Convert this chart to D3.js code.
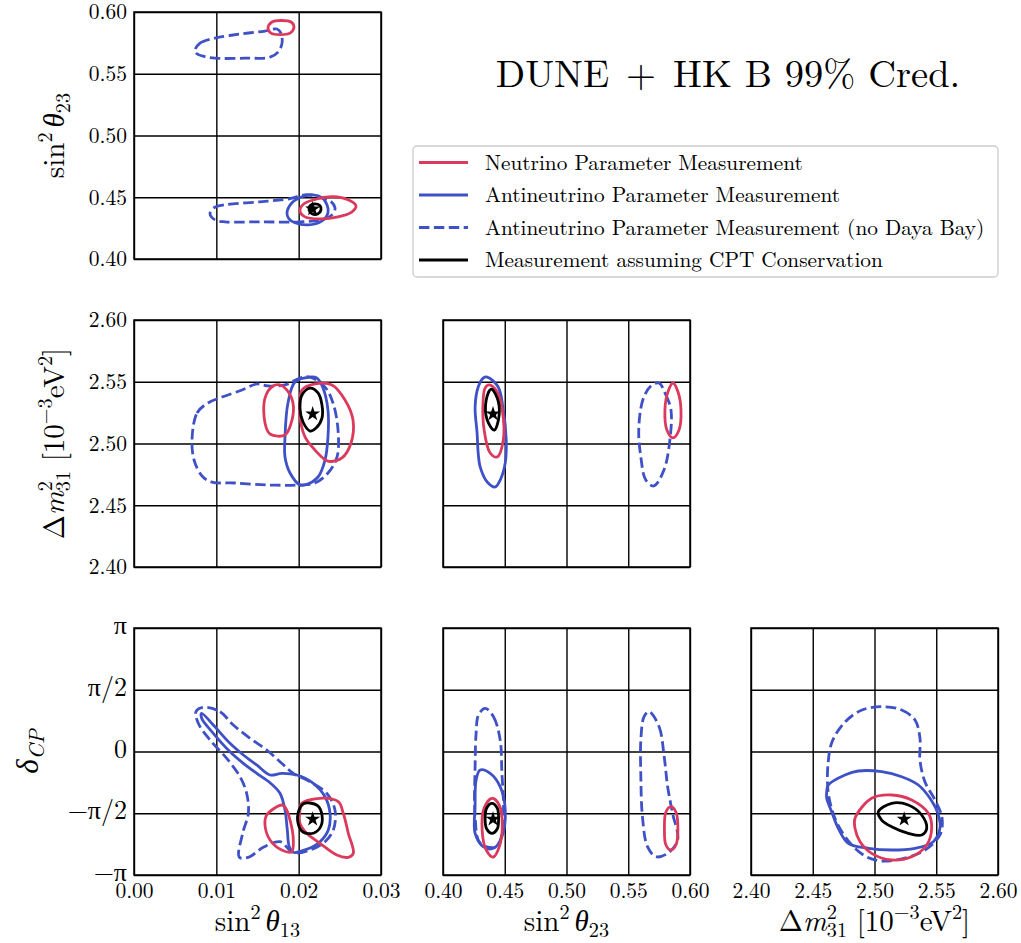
<!DOCTYPE html>
<html>
<head>
<meta charset="utf-8">
<script src="https://cdn.jsdelivr.net/npm/d3@7"></script>
</head>
<body style="margin:0;background:#fff">
<svg id="chart" width="1021" height="943"></svg>
<script>
const PI = Math.PI;

// axis ranges + ticks
const t13Domain = [0, 0.03];
const t23Domain = [0.40, 0.60];
const dmDomain = [2.40, 2.60];
const dcpDomain = [-PI, PI];

const t13Ticks = [0, 0.01, 0.02, 0.03];
const t23Ticks = [0.40, 0.45, 0.50, 0.55, 0.60];
const dmTicks = [2.40, 2.45, 2.50, 2.55, 2.60];
const dcpTicks = [-PI, -PI / 2, 0, PI / 2, PI];
const dcpLabels = ["−π", "−π/2", "0", "π/2", "π"];

// best fit (star): sin2 t13, sin2 t23, dm31, dcp
const bestT13 = 0.0217;
const bestT23 = 0.4405;
const bestDm = 2.524;
const bestDcp = -1.72;

// ---- sin2 t13 vs sin2 t23
const p1_nu_hi = [[0.01628,0.5870],[0.01676,0.5919],[0.01785,0.5931],[0.01907,0.5919],[0.01943,0.5878],[0.01895,0.5829],[0.01773,0.5817],[0.01664,0.5829]];
const p1_nu_lo = [[0.02016,0.4390],[0.02065,0.4447],[0.02235,0.4488],[0.02417,0.4504],[0.02599,0.4480],[0.02696,0.4431],[0.02648,0.4382],[0.02478,0.4341],[0.02259,0.4325],[0.02077,0.4341]];
const p1_anu = [[0.01858,0.4374],[0.01919,0.4455],[0.02040,0.4504],[0.02174,0.4520],[0.02283,0.4496],[0.02344,0.4439],[0.02356,0.4374],[0.02283,0.4309],[0.02113,0.4276],[0.01955,0.4293],[0.01883,0.4325]];
const p1_nodb_hi = [[0.00741,0.5691],[0.00802,0.5748],[0.00984,0.5789],[0.01287,0.5821],[0.01591,0.5846],[0.01737,0.5862],[0.01785,0.5829],[0.01798,0.5748],[0.01749,0.5675],[0.01652,0.5634],[0.01348,0.5626],[0.00984,0.5626],[0.00838,0.5642],[0.00753,0.5667]];
const p1_nodb_lo = [[0.00923,0.4366],[0.00972,0.4415],[0.01105,0.4439],[0.01530,0.4463],[0.01895,0.4488],[0.02077,0.4520],[0.02235,0.4504],[0.02381,0.4472],[0.02441,0.4415],[0.02417,0.4366],[0.02320,0.4325],[0.02016,0.4301],[0.01530,0.4301],[0.01105,0.4301],[0.00984,0.4317]];
const p1_cpt = [[0.02198,0.4447],[0.02259,0.4431],[0.02271,0.4398],[0.02235,0.4366],[0.02162,0.4366],[0.02126,0.4398],[0.02138,0.4431]];

// ---- sin2 t13 vs dm31
const p2_nu_a = [[0.01688,2.5466],[0.01591,2.5368],[0.01591,2.5166],[0.01652,2.5077],[0.01834,2.5069],[0.01919,2.5190],[0.01931,2.5328],[0.01858,2.5433],[0.01773,2.5474]];
const p2_nu_b = [[0.02040,2.5433],[0.02198,2.5482],[0.02405,2.5474],[0.02563,2.5352],[0.02660,2.5190],[0.02636,2.5004],[0.02526,2.4883],[0.02356,2.4858],[0.02198,2.4947],[0.02077,2.5053],[0.02016,2.5215],[0.02016,2.5352]];
const p2_anu = [[0.02138,2.5538],[0.01956,2.5498],[0.01870,2.5328],[0.01834,2.5053],[0.01834,2.4891],[0.01895,2.4761],[0.02016,2.4664],[0.02077,2.4664],[0.02235,2.4729],[0.02320,2.4866],[0.02356,2.5053],[0.02356,2.5271],[0.02296,2.5449],[0.02223,2.5530]];
const p2_nodb = [[0.00704,2.5004],[0.00765,2.5247],[0.00899,2.5328],[0.01069,2.5376],[0.01312,2.5433],[0.01494,2.5482],[0.01628,2.5466],[0.01834,2.5474],[0.02016,2.5530],[0.02138,2.5538],[0.02320,2.5457],[0.02417,2.5328],[0.02478,2.5109],[0.02466,2.4891],[0.02356,2.4761],[0.02198,2.4680],[0.01992,2.4664],[0.01628,2.4664],[0.01227,2.4680],[0.00947,2.4688],[0.00838,2.4729],[0.00741,2.4842]];
const p2_cpt = [[0.02138,2.5449],[0.02235,2.5409],[0.02283,2.5312],[0.02283,2.5206],[0.02211,2.5125],[0.02138,2.5101],[0.02053,2.5174],[0.02016,2.5287],[0.02040,2.5393]];

// ---- sin2 t23 vs dm31
const p3_nu_a = [[0.4374,2.5474],[0.4439,2.5417],[0.4480,2.5271],[0.4488,2.5028],[0.4439,2.4891],[0.4382,2.4923],[0.4333,2.5109],[0.4325,2.5352],[0.4341,2.5449]];
const p3_nu_b = [[0.5862,2.5490],[0.5903,2.5417],[0.5927,2.5271],[0.5911,2.5109],[0.5862,2.5045],[0.5813,2.5109],[0.5797,2.5271],[0.5821,2.5417]];
const p3_anu = [[0.4358,2.5538],[0.4447,2.5457],[0.4488,2.5271],[0.4512,2.5028],[0.4504,2.4842],[0.4463,2.4704],[0.4423,2.4648],[0.4358,2.4688],[0.4301,2.4810],[0.4285,2.4923],[0.4276,2.5085],[0.4260,2.5296],[0.4285,2.5457],[0.4325,2.5530]];
const p3_nodb = [[0.5748,2.5490],[0.5805,2.5393],[0.5846,2.5271],[0.5837,2.5028],[0.5789,2.4785],[0.5707,2.4656],[0.5642,2.4704],[0.5602,2.4891],[0.5585,2.5109],[0.5618,2.5352],[0.5683,2.5466]];
const p3_cpt = [[0.4390,2.5441],[0.4439,2.5368],[0.4455,2.5231],[0.4415,2.5109],[0.4358,2.5190],[0.4350,2.5352]];

// ---- sin2 t13 vs dcp
const p4_nu_a = [[0.01794,-1.361],[0.01612,-1.615],[0.01591,-1.870],[0.01652,-2.251],[0.01794,-2.506],[0.01915,-2.549],[0.01935,-2.251],[0.01895,-1.743],[0.01834,-1.412]];
const p4_nu_b = [[0.02037,-1.318],[0.02259,-1.190],[0.02481,-1.277],[0.02542,-1.572],[0.02603,-2.081],[0.02664,-2.590],[0.02603,-2.691],[0.02462,-2.633],[0.02259,-2.335],[0.02098,-2.081],[0.02016,-1.827],[0.02016,-1.488]];
const p4_anu = [[0.00822,0.972],[0.00963,0.674],[0.01166,0.208],[0.01328,-0.089],[0.01490,-0.343],[0.01652,-0.598],[0.01794,-0.555],[0.01976,-0.598],[0.02178,-0.809],[0.02320,-1.150],[0.02381,-1.572],[0.02360,-1.997],[0.02259,-2.294],[0.02098,-2.488],[0.01935,-2.564],[0.01886,-2.422],[0.01862,-1.997],[0.01834,-1.488],[0.01773,-1.063],[0.01652,-0.794],[0.01490,-0.555],[0.01328,-0.300],[0.01166,-0.005],[0.00963,0.463],[0.00822,0.845]];
const p4_nodb = [[0.00842,1.124],[0.01045,1.013],[0.01206,0.674],[0.01409,0.336],[0.01612,0.038],[0.01794,-0.300],[0.01935,-0.555],[0.02138,-0.768],[0.02340,-1.063],[0.02441,-1.488],[0.02421,-1.997],[0.02320,-2.294],[0.02138,-2.506],[0.01935,-2.574],[0.01773,-2.294],[0.01571,-2.437],[0.01389,-2.691],[0.01279,-2.691],[0.01320,-2.081],[0.01389,-1.572],[0.01368,-1.063],[0.01287,-0.641],[0.01126,-0.173],[0.00923,0.293],[0.00781,0.717],[0.00753,1.013]];
const p4_cpt = [[0.02138,-1.310],[0.02235,-1.386],[0.02283,-1.615],[0.02271,-1.895],[0.02186,-2.073],[0.02053,-2.048],[0.01992,-1.819],[0.02004,-1.488],[0.02053,-1.335]];

// ---- sin2 t23 vs dcp
const p5_nu_a = [[0.4396,-1.190],[0.4455,-1.361],[0.4480,-1.870],[0.4455,-2.429],[0.4407,-2.684],[0.4350,-2.506],[0.4317,-1.997],[0.4333,-1.437]];
const p5_nu_b = [[0.5846,-1.404],[0.5886,-1.539],[0.5902,-1.946],[0.5886,-2.378],[0.5846,-2.506],[0.5805,-2.378],[0.5793,-1.946],[0.5805,-1.539]];
const p5_anu = [[0.4301,-0.471],[0.4382,-0.555],[0.4463,-0.895],[0.4504,-1.488],[0.4477,-2.167],[0.4409,-2.462],[0.4328,-2.422],[0.4260,-2.081],[0.4260,-1.404],[0.4268,-0.725]];
const p5_nodb_a = [[0.4341,1.099],[0.4409,0.885],[0.4463,0.293],[0.4477,-0.555],[0.4490,-1.404],[0.4477,-2.081],[0.4437,-2.422],[0.4301,-2.335],[0.4260,-1.659],[0.4260,-0.387],[0.4268,0.463],[0.4287,0.928]];
const p5_nodb_b = [[0.5669,1.013],[0.5750,0.631],[0.5791,-0.132],[0.5819,-0.895],[0.5859,-1.572],[0.5900,-2.251],[0.5819,-2.590],[0.5724,-2.676],[0.5656,-2.422],[0.5615,-1.659],[0.5602,-0.641],[0.5602,0.293],[0.5628,0.885]];
const p5_cpt = [[0.4396,-1.318],[0.4439,-1.437],[0.4450,-1.692],[0.4439,-1.972],[0.4396,-2.081],[0.4354,-1.972],[0.4341,-1.692],[0.4354,-1.437]];

// ---- dm31 vs dcp
const p6_nu = [[2.4842,-1.699],[2.4977,-1.190],[2.5139,-1.107],[2.5301,-1.234],[2.5436,-1.572],[2.5463,-1.954],[2.5423,-2.378],[2.5301,-2.676],[2.5139,-2.760],[2.4977,-2.590],[2.4883,-2.294],[2.4842,-1.954]];
const p6_anu = [[2.4626,-0.852],[2.4761,-0.598],[2.4869,-0.496],[2.5058,-0.514],[2.5220,-0.641],[2.5355,-0.852],[2.5449,-1.190],[2.5517,-1.615],[2.5530,-1.954],[2.5476,-2.294],[2.5328,-2.462],[2.5139,-2.506],[2.4950,-2.462],[2.4788,-2.335],[2.4707,-1.954],[2.4653,-1.531],[2.4613,-1.190],[2.4613,-1.022]];
const p6_nodb = [[2.5058,1.140],[2.5220,1.056],[2.5328,0.801],[2.5368,0.343],[2.5368,-0.216],[2.5409,-0.776],[2.5490,-1.234],[2.5547,-1.692],[2.5530,-2.124],[2.5409,-2.506],[2.5247,-2.709],[2.5061,-2.785],[2.4923,-2.658],[2.4802,-2.328],[2.4704,-1.870],[2.4656,-1.488],[2.4623,-0.979],[2.4623,-0.343],[2.4656,0.242],[2.4761,0.750],[2.4899,1.056]];
const p6_cpt = [[2.5031,-1.531],[2.5139,-1.318],[2.5274,-1.361],[2.5382,-1.615],[2.5423,-1.954],[2.5382,-2.124],[2.5274,-2.081],[2.5139,-1.913],[2.5058,-1.743]];

const legendLabels = [
  "Neutrino Parameter Measurement",
  "Antineutrino Parameter Measurement",
  "Antineutrino Parameter Measurement (no Daya Bay)",
  "Measurement assuming CPT Conservation"
];

const FONT = '"Latin Modern Roman", "Liberation Serif", serif';
const GREEK = '"Liberation Serif", serif';
const RED = "#dc3a5c";
const BLUE = "#3f51c6";
const styles = {
  nu:   { color: RED,  dash: null },
  anu:  { color: BLUE, dash: null },
  nodb: { color: BLUE, dash: "10.4,4.5" },
  cpt:  { color: "#000", dash: null }
};

const svg = d3.select("#chart").attr("font-family", FONT);
const S = 247;
const colX = [134, 443, 751];
const rowY = [12, 320, 628];
const fmt2 = d3.format(".2f");

const line = d3.line().curve(d3.curveCatmullRomClosed.alpha(0.5));

let clipN = 0;

function panel(col, row, opt) {
  const g = svg.append("g").attr("transform", `translate(${colX[col]},${rowY[row]})`);
  const x = d3.scaleLinear().domain(opt.xd).range([0, S]);
  const y = d3.scaleLinear().domain(opt.yd).range([S, 0]);

  const xa = g.append("g").attr("transform", `translate(0,${S})`)
    .call(d3.axisBottom(x).tickValues(opt.xt).tickSize(-S).tickSizeOuter(0).tickPadding(8)
      .tickFormat(opt.showX ? fmt2 : ""));
  const ya = g.append("g")
    .call(d3.axisLeft(y).tickValues(opt.yt).tickSize(-S).tickSizeOuter(0).tickPadding(7)
      .tickFormat(opt.showY ? (opt.yf || fmt2) : ""));
  [xa, ya].forEach(a => {
    a.attr("font-family", FONT);
    a.select(".domain").remove();
    a.selectAll(".tick line").attr("stroke", "#000").attr("stroke-width", 1.4);
    a.selectAll(".tick text").attr("font-size", 21.5).attr("fill", "#000")
      .style("font-family", FONT);
  });
  if (opt.yf) {
    // pi labels are set larger in the original
    ya.selectAll(".tick text").attr("font-size", 26).attr("dy", "0.22em");
  }

  g.append("rect").attr("width", S).attr("height", S)
    .attr("fill", "none").attr("stroke", "#000").attr("stroke-width", 1.5);

  const id = "clip" + (clipN++);
  g.append("clipPath").attr("id", id).append("rect").attr("width", S).attr("height", S);
  const cg = g.append("g").attr("clip-path", `url(#${id})`);

  opt.contours.forEach(c => {
    const st = styles[c.kind];
    cg.append("path")
      .attr("d", line(c.pts.map(p => [x(p[0]), y(p[1])])))
      .attr("fill", "none")
      .attr("stroke", st.color)
      .attr("stroke-width", 2.8)
      .attr("stroke-linejoin", "round")
      .attr("stroke-dasharray", st.dash);
  });

  cg.append("path")
    .attr("d", d3.symbol(d3.symbolStar, 70)())
    .attr("transform", `translate(${x(opt.star[0])},${y(opt.star[1])})`)
    .attr("fill", "#000");
}

const dcpFmt = d => dcpLabels[dcpTicks.findIndex(v => Math.abs(v - d) < 1e-9)];

panel(0, 0, { xd: t13Domain, yd: t23Domain, xt: t13Ticks, yt: t23Ticks, showX: false, showY: true,
  star: [bestT13, bestT23],
  contours: [
    { kind: "nodb", pts: p1_nodb_hi }, { kind: "nodb", pts: p1_nodb_lo },
    { kind: "anu", pts: p1_anu },
    { kind: "nu", pts: p1_nu_hi }, { kind: "nu", pts: p1_nu_lo },
    { kind: "cpt", pts: p1_cpt }] });

panel(0, 1, { xd: t13Domain, yd: dmDomain, xt: t13Ticks, yt: dmTicks, showX: false, showY: true,
  star: [bestT13, bestDm],
  contours: [
    { kind: "nodb", pts: p2_nodb }, { kind: "anu", pts: p2_anu },
    { kind: "nu", pts: p2_nu_a }, { kind: "nu", pts: p2_nu_b },
    { kind: "cpt", pts: p2_cpt }] });

panel(1, 1, { xd: t23Domain, yd: dmDomain, xt: t23Ticks, yt: dmTicks, showX: false, showY: false,
  star: [bestT23, bestDm],
  contours: [
    { kind: "nodb", pts: p3_nodb }, { kind: "anu", pts: p3_anu },
    { kind: "nu", pts: p3_nu_a }, { kind: "nu", pts: p3_nu_b },
    { kind: "cpt", pts: p3_cpt }] });

panel(0, 2, { xd: t13Domain, yd: dcpDomain, xt: t13Ticks, yt: dcpTicks, showX: true, showY: true,
  yf: dcpFmt, star: [bestT13, bestDcp],
  contours: [
    { kind: "nodb", pts: p4_nodb }, { kind: "anu", pts: p4_anu },
    { kind: "nu", pts: p4_nu_a }, { kind: "nu", pts: p4_nu_b },
    { kind: "cpt", pts: p4_cpt }] });

panel(1, 2, { xd: t23Domain, yd: dcpDomain, xt: t23Ticks, yt: dcpTicks, showX: true, showY: false,
  star: [bestT23, bestDcp],
  contours: [
    { kind: "nodb", pts: p5_nodb_a }, { kind: "nodb", pts: p5_nodb_b },
    { kind: "anu", pts: p5_anu },
    { kind: "nu", pts: p5_nu_a }, { kind: "nu", pts: p5_nu_b },
    { kind: "cpt", pts: p5_cpt }] });

panel(2, 2, { xd: dmDomain, yd: dcpDomain, xt: dmTicks, yt: dcpTicks, showX: true, showY: false,
  star: [bestDm, bestDcp],
  contours: [
    { kind: "nodb", pts: p6_nodb }, { kind: "anu", pts: p6_anu },
    { kind: "nu", pts: p6_nu }, { kind: "cpt", pts: p6_cpt }] });

// math-ish labels built from tspans
function mathText(parent, parts, fs) {
  const t = parent.append("text").attr("font-size", fs).style("font-family", FONT);
  let cur = 0;
  parts.forEach(p => {
    const target = p.pos === "sup" ? -0.42 * fs : p.pos === "sub" ? 0.2 * fs : 0;
    const ts = t.append("tspan").text(p.t).attr("dy", target - cur);
    cur = target;
    if (p.pos) ts.attr("font-size", fs * 0.7);
    if (p.it) ts.attr("font-style", "italic");
    if (p.f) ts.style("font-family", p.f);
    if (p.dx) ts.attr("dx", p.dx);
  });
  return t;
}

const FS = 29;
const sinT = sub => [{ t: "sin" }, { t: "2", pos: "sup" }, { t: "θ", it: true, f: GREEK, dx: 5 }, { t: sub, pos: "sub" }];
const dmLabel = [{ t: "Δ" }, { t: "m", it: true }, { t: "2", pos: "sup" }, { t: "31", pos: "sub", dx: -FS * 0.35 },
  { t: " [10" }, { t: "−3", pos: "sup" }, { t: "eV" }, { t: "2", pos: "sup" }, { t: "]" }];

// bottom labels
mathText(svg.append("g").attr("transform", `translate(${colX[0] + S / 2},931)`), sinT("13"), FS).attr("text-anchor", "middle");
mathText(svg.append("g").attr("transform", `translate(${colX[1] + S / 2},931)`), sinT("23"), FS).attr("text-anchor", "middle");
mathText(svg.append("g").attr("transform", `translate(${colX[2] + S / 2},931)`), dmLabel, FS).attr("text-anchor", "middle");

// left labels
mathText(svg.append("g").attr("transform", `translate(64,${rowY[0] + S / 2}) rotate(-90)`), sinT("23"), FS).attr("text-anchor", "middle");
mathText(svg.append("g").attr("transform", `translate(64,${rowY[1] + S / 2}) rotate(-90)`), dmLabel, FS).attr("text-anchor", "middle");
mathText(svg.append("g").attr("transform", `translate(38,${rowY[2] + S / 2}) rotate(-90)`),
  [{ t: "δ", it: true, f: GREEK }, { t: "CP", it: true, pos: "sub" }], FS + 2).attr("text-anchor", "middle");

// title
const title = svg.append("text")
  .attr("x", 728).attr("y", 87)
  .attr("text-anchor", "middle")
  .attr("font-size", 38.5)
  .style("font-family", FONT);
title.append("tspan").text("DUNE");
title.append("tspan").attr("dx", 17).text("+");
title.append("tspan").attr("dx", 17).text("HK B 99% Cred.");

// legend
const lg = svg.append("g").attr("transform", "translate(413,146)");
lg.append("rect").attr("width", 585).attr("height", 131).attr("rx", 4)
  .attr("fill", "#fff").attr("stroke", "#cccccc").attr("stroke-width", 1.3);
const legendKinds = ["nu", "anu", "nodb", "cpt"];
legendKinds.forEach((k, i) => {
  const yy = 16.5 + i * 32.5;
  lg.append("line").attr("x1", 6).attr("x2", 55).attr("y1", yy).attr("y2", yy)
    .attr("stroke", styles[k].color).attr("stroke-width", 2.8)
    .attr("stroke-dasharray", styles[k].dash);
  lg.append("text").attr("x", 72).attr("y", yy).attr("dy", "0.33em")
    .attr("font-size", 21.3).style("font-family", FONT)
    .text(legendLabels[i]);
});
</script>
</body>
</html>
